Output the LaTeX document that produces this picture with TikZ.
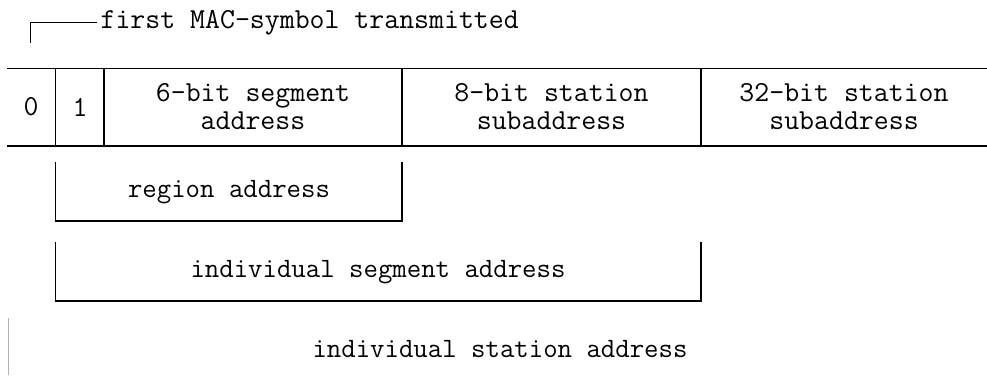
\documentclass[tikz,border=0pt]{standalone}
\usepackage{tikz}
\usetikzlibrary{positioning}

\begin{document}
\begin{tikzpicture}[x=1pt, y=-1pt, line width=1.2pt,
    label/.style={font=\ttfamily\fontsize{29}{28}\selectfont, align=center, inner sep=0pt},
    sublabel/.style={label, font=\ttfamily\fontsize{28}{28}\selectfont}]
\useasboundingbox (0, 0) rectangle (987, 375);

% frame of the address fields
\coordinate (top_l) at (7, 68.5);
\coordinate (top_r) at (987, 68.5);
\coordinate (bot_l) at (7, 146);
\coordinate (bot_r) at (987, 146);
\draw (top_l) -- (top_r);
\draw (bot_l) -- (bot_r);
\foreach \x/\n in {55.5/a, 104/b, 402/c, 701/d} {
    \coordinate (div_\n_t) at (\x, 68.5);
    \coordinate (div_\n_b) at (\x, 146);
    \draw (div_\n_t) -- (div_\n_b);
}

\node[label] (bit_0) at (31, 107) {0};
\node[label] (bit_1) at (80, 107) {1};
\node[label] (seg_addr) at (253, 107) {6-bit segment\\address};
\node[label] (stn_sub8) at (551.5, 107) {8-bit station\\subaddress};
\node[label] (stn_sub32) at (844, 107) {32-bit station\\subaddress};

% first symbol marker
\node[label, anchor=base west] (first_sym) at (100, 28) {first MAC-symbol transmitted};
\coordinate (first_c) at (30, 22);
\coordinate (first_b) at (30, 43);
\draw[line width=1pt] (first_b) -- (first_c) -- ([xshift=-3pt]first_sym.west |- first_c);

% region address
\coordinate (reg_lt) at (55.5, 162);
\coordinate (reg_lb) at (55.5, 221);
\coordinate (reg_rb) at (402, 221);
\coordinate (reg_rt) at (402, 162);
\draw (reg_lt) -- (reg_lb) -- (reg_rb) -- (reg_rt);
\node[sublabel] (reg_addr) at (229, 192) {region address};

% individual segment address
\coordinate (seg_lt) at (55.5, 242);
\coordinate (seg_lb) at (55.5, 301);
\coordinate (seg_rb) at (701, 301);
\coordinate (seg_rt) at (701, 242);
\draw (seg_lt) -- (seg_lb) -- (seg_rb) -- (seg_rt);
\node[sublabel] (ind_seg) at (378, 272) {individual segment address};

% individual station address
\coordinate (stn_lt) at (8, 318);
\coordinate (stn_lb) at (8, 375);
\draw[gray!60, line width=1pt] (stn_lt) -- (stn_lb);
\node[sublabel] (ind_stn) at (500, 349) {individual station address};
\end{tikzpicture}
\end{document}
